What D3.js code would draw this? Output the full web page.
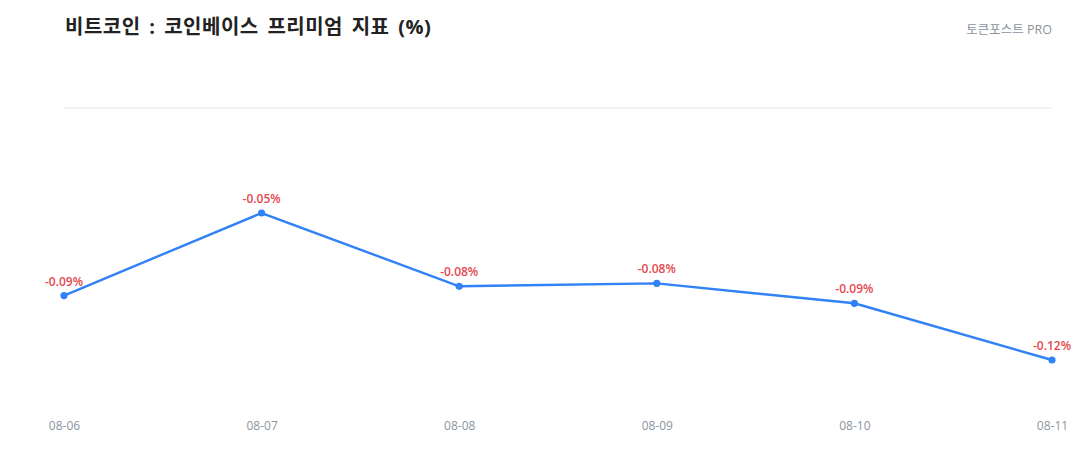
<!DOCTYPE html>
<html>
<head>
<meta charset="utf-8">
<script src="https://cdn.jsdelivr.net/npm/d3@7"></script>
<style>
  body { margin: 0; background: #fff; }
  svg { font-family: "Open Sans", "Noto Sans CJK KR", sans-serif; }
</style>
</head>
<body>
<svg id="chart" width="1080" height="460"></svg>
<script>
// data
const dates = ["08-06", "08-07", "08-08", "08-09", "08-10", "08-11"];
const premium = [-0.0893, -0.05, -0.0849, -0.0835, -0.093, -0.12];

const title = "비트코인 : 코인베이스 프리미엄 지표 (%)";
const brand = "토큰포스트 PRO";

const svg = d3.select("#chart");
const plot = {left: 64, right: 1052, top: 108, bottom: 402};

let x = d3.scalePoint().domain(dates).range([plot.left, plot.right]);
let y = d3.scaleLinear().domain([-0.14, 0]).range([plot.bottom, plot.top]);

svg.append("text")
    .attr("x", 65).attr("y", 34)
    .attr("font-size", 20).attr("font-weight", "bold")
    .attr("letter-spacing", 0.5)
    .attr("word-spacing", 3)
    .attr("fill", "#222")
    .text(title);

svg.append("text")
    .attr("x", 1052).attr("y", 34)
    .attr("text-anchor", "end")
    .attr("font-size", 12.5)
    .attr("fill", "#8b929b")
    .text(brand);

// zero gridline
svg.append("line")
    .attr("x1", plot.left).attr("x2", plot.right)
    .attr("y1", y(0)).attr("y2", y(0))
    .attr("stroke", "#e6e8eb").attr("stroke-width", 1);

let xAxis = d3.axisBottom(x).tickSize(0).tickPadding(0);
svg.append("g")
    .attr("transform", "translate(0,423)")
    .call(xAxis)
    .call(g => g.select(".domain").remove())
    .selectAll("text")
    .attr("font-family", "Open Sans")
    .attr("font-size", 12)
    .attr("fill", "#8b95a1")
    .attr("dy", "0.6em");

let pts = dates.map((d, i) => ({date: d, v: premium[i]}));

let line = d3.line().x(d => x(d.date)).y(d => y(d.v));
svg.append("path")
    .datum(pts)
    .attr("d", line)
    .attr("fill", "none")
    .attr("stroke", "#3182f6")
    .attr("stroke-width", 2.4);

svg.selectAll("circle.pt").data(pts).enter().append("circle")
    .attr("class", "pt")
    .attr("cx", d => x(d.date)).attr("cy", d => y(d.v))
    .attr("r", 3.6)
    .attr("fill", "#3182f6");

svg.selectAll("text.lbl").data(pts).enter().append("text")
    .attr("class", "lbl")
    .attr("x", d => x(d.date)).attr("y", d => y(d.v) - 10)
    .attr("text-anchor", "middle")
    .attr("font-size", 12).attr("font-weight", 600)
    .attr("fill", "#e5484d")
    .text(d => d.v.toFixed(2) + "%");
</script>
</body>
</html>
